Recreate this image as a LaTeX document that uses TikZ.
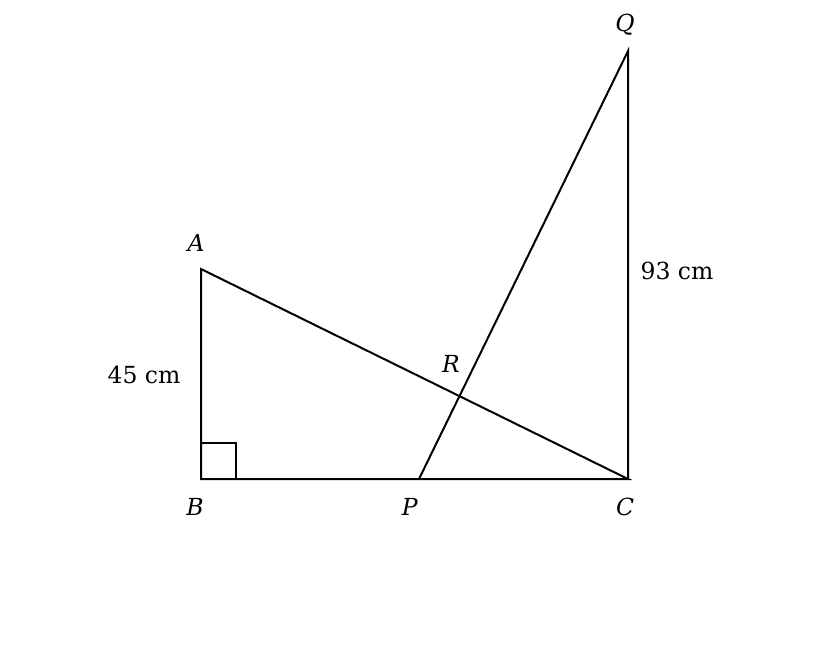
\documentclass[tikz,border=0pt]{standalone}
\usepackage{fontspec}
\setmainfont{DejaVu Serif}
\begin{document}
\begin{tikzpicture}[x=1pt,y=-1pt,
  edge/.style={line width=2pt,line join=miter},
  lbl/.style={font=\fontsize{23.5}{26}\selectfont,inner sep=0pt}]
\useasboundingbox (0,0) rectangle (816,650);
\coordinate (A) at (201,269);
\coordinate (B) at (201,479);
\coordinate (C) at (628,479);
\coordinate (Q) at (628,51);
\coordinate (P) at (419,479);
\coordinate (R) at (intersection of A--C and P--Q);
\draw[edge] (A) -- (B) -- (C) -- cycle;
\draw[edge] (P) -- (Q) -- (C);
\draw[line width=2.6pt] (P) -- (C);
\draw[line width=1.6pt] (201,443) -- (236,443) -- (236,479);
\node[lbl] (lA) at (196,243) {\textit{A}};
\node[lbl] (lB) at (195,507) {\textit{B}};
\node[lbl] (lP) at (410,507) {\textit{P}};
\node[lbl] (lC) at (625,507) {\textit{C}};
\node[lbl] (lQ) at (625,25) {\textit{Q}};
\node[lbl] (lR) at (451,364) {\textit{R}};
\node[lbl] (l45) at (144,375) {45 cm};
\node[lbl] (l93) at (677,271) {93 cm};
\end{tikzpicture}
\end{document}
